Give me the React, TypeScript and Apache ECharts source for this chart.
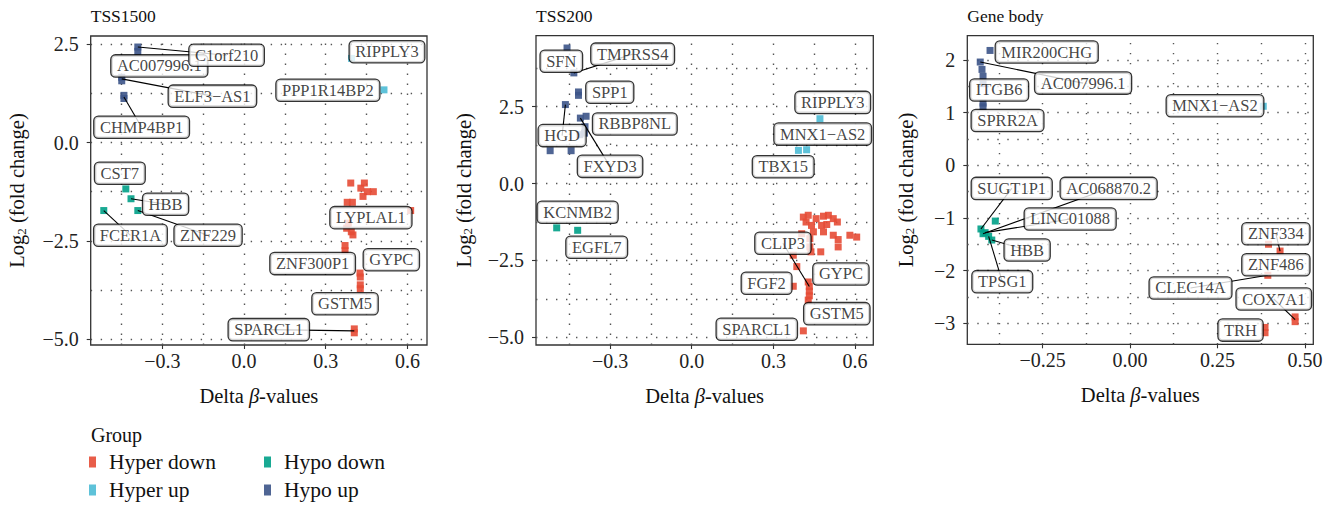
import React, { useEffect, useRef } from 'react';
import * as echarts from 'echarts';

const FONT = '"Liberation Serif", "Times New Roman", serif';

const GROUPS = ['Hyper down', 'Hyper up', 'Hypo down', 'Hypo up'];
const GROUP_COLORS = ['#E64B35', '#4DBBD5', '#00A087', '#3C5488'];

// Each point: [delta beta-value, log2 fold change]
const tss1500HyperDown = [
  [0.392, -1.03], [0.442, -1.03], [0.429, -1.16], [0.453, -1.25], [0.475, -1.25],
  [0.437, -1.37], [0.379, -1.52], [0.398, -1.52], [0.612, -1.73], [0.377, -2.18],
  [0.383, -2.05], [0.394, -2.27], [0.4, -2.35], [0.371, -2.62], [0.371, -2.75],
  [0.426, -3.32], [0.427, -3.42], [0.427, -3.62], [0.427, -3.72], [0.405, -4.74],
  [0.405, -4.84],
];
const tss1500HyperUp = [[0.395, 2.14], [0.514, 1.34]];
const tss1500HypoDown = [[-0.434, -1.18], [-0.415, -1.43], [-0.39, -1.73], [-0.515, -1.73]];
const tss1500HypoUp = [
  [-0.39, 2.43], [-0.39, 2.32], [-0.449, 1.66], [-0.449, 1.57], [-0.441, 1.2], [-0.441, 1.12],
];

const tss200HyperDown = [
  [0.41, -1.09], [0.428, -1.03], [0.42, -1.25], [0.44, -1.36], [0.457, -1.14],
  [0.484, -1.06], [0.502, -1.03], [0.52, -1.14], [0.535, -1.25], [0.477, -1.36],
  [0.496, -1.33], [0.447, -1.57], [0.484, -1.57], [0.52, -1.68], [0.538, -1.82],
  [0.581, -1.68], [0.606, -1.74], [0.538, -2.06], [0.474, -2.22], [0.438, -2.22],
  [0.434, -2.06], [0.404, -1.63], [0.434, -1.79], [0.373, -2.33], [0.386, -2.7],
  [0.373, -3.34], [0.428, -3.2], [0.432, -3.35], [0.432, -3.5], [0.432, -3.65],
  [0.428, -3.79], [0.41, -4.79],
];
const tss200HyperUp = [[0.471, 2.11], [0.392, 1.08], [0.422, 1.1]];
const tss200HypoDown = [[-0.496, -1.44], [-0.419, -1.52]];
const tss200HypoUp = [
  [-0.458, 4.41], [-0.433, 3.6], [-0.416, 2.98], [-0.416, 2.87], [-0.464, 2.57],
  [-0.409, 2.13], [-0.388, 2.19], [-0.392, 1.85], [-0.394, 1.64], [-0.411, 1.59],
  [-0.52, 1.07], [-0.443, 1.07],
];

const geneBodyHyperDown = [
  [0.396, -1.5], [0.429, -1.63], [0.394, -2.09], [0.472, -2.88], [0.472, -2.97],
  [0.386, -3.08], [0.386, -3.18],
];
const geneBodyHyperUp = [[0.381, 1.12]];
const geneBodyHypoDown = [
  [-0.385, -1.06], [-0.426, -1.21], [-0.414, -1.28], [-0.404, -1.35], [-0.395, -1.42], [-0.42, -1.3],
];
const geneBodyHypoUp = [
  [-0.4, 2.18], [-0.428, 1.96], [-0.423, 1.82], [-0.42, 1.69], [-0.42, 1.55], [-0.42, 1.18], [-0.42, 1.11],
];

// Gene labels: [gene, label x, label y, point x, point y] (point omitted when no leader line)
const tss1500Labels: any[] = [
  ['AC007996.1', -0.311, 1.95],
  ['C1orf210', -0.064, 2.22, -0.39, 2.43],
  ['ELF3\u2212AS1', -0.116, 1.18, -0.449, 1.62],
  ['CHMP4BP1', -0.376, 0.39, -0.441, 1.16],
  ['RIPPLY3', 0.525, 2.31],
  ['PPP1R14BP2', 0.308, 1.33],
  ['CST7', -0.456, -0.78],
  ['HBB', -0.288, -1.57, -0.415, -1.43],
  ['FCER1A', -0.417, -2.36, -0.515, -1.73],
  ['ZNF229', -0.132, -2.36, -0.39, -1.73],
  ['LYPLAL1', 0.466, -1.91],
  ['ZNF300P1', 0.252, -3.08],
  ['GYPC', 0.541, -2.98],
  ['GSTM5', 0.371, -4.1],
  ['SPARCL1', 0.091, -4.76, 0.405, -4.79],
];
const tss200Labels: any[] = [
  ['SFN', -0.479, 3.98],
  ['TMPRSS4', -0.217, 4.21, -0.433, 3.6],
  ['SPP1', -0.301, 2.97],
  ['HGD', -0.476, 1.56, -0.464, 2.57],
  ['RBBP8NL', -0.209, 1.94],
  ['FXYD3', -0.3, 0.56, -0.409, 2.13],
  ['RIPPLY3', 0.518, 2.64],
  ['MNX1\u2212AS2', 0.481, 1.61],
  ['TBX15', 0.336, 0.55],
  ['KCNMB2', -0.419, -0.93],
  ['EGFL7', -0.349, -2.07],
  ['CLIP3', 0.335, -1.94, 0.432, -3.35],
  ['GYPC', 0.548, -2.94],
  ['FGF2', 0.275, -3.24],
  ['GSTM5', 0.533, -4.23],
  ['SPARCL1', 0.239, -4.74],
];
const geneBodyLabels: any[] = [
  ['MIR200CHG', -0.238, 2.15],
  ['AC007996.1', -0.134, 1.56, -0.428, 1.96],
  ['ITGB6', -0.374, 1.43],
  ['SPRR2A', -0.35, 0.85],
  ['MNX1\u2212AS2', 0.243, 1.13],
  ['SUGT1P1', -0.338, -0.44, -0.426, -1.21],
  ['AC068870.2', -0.061, -0.44, -0.42, -1.3],
  ['LINC01088', -0.171, -1.02, -0.414, -1.28],
  ['HBB', -0.294, -1.61, -0.395, -1.42],
  ['TPSG1', -0.365, -2.21, -0.404, -1.35],
  ['ZNF334', 0.417, -1.3, 0.429, -1.63],
  ['ZNF486', 0.417, -1.89],
  ['CLEC14A', 0.173, -2.33, 0.394, -2.09],
  ['COX7A1', 0.411, -2.54, 0.472, -2.93],
  ['TRH', 0.316, -3.13],
];

const tss1500XTicks = [-0.3, 0, 0.3, 0.6];
const tss1500YTicks = [-5, -2.5, 0, 2.5];
const tss200XTicks = [-0.3, 0, 0.3, 0.6];
const tss200YTicks = [-5, -2.5, 0, 2.5];
const geneBodyXTicks = [-0.25, 0, 0.25, 0.5];
const geneBodyYTicks = [-3, -2, -1, 0, 1, 2];

const panels = [
  {
    title: 'TSS1500',
    groups: [tss1500HyperDown, tss1500HyperUp, tss1500HypoDown, tss1500HypoUp],
    labels: tss1500Labels,
    xTicks: tss1500XTicks, yTicks: tss1500YTicks,
    xGrid: [-0.45, -0.3, -0.15, 0, 0.15, 0.3, 0.45, 0.6],
    yGrid: [-5, -3.75, -2.5, -1.25, 0, 1.25, 2.5],
    xRange: [-0.563, 0.672], yRange: [-5.15, 2.71],
    xDigits: 1, yDigits: 1,
    grid: { left: 90.7, top: 36, width: 336.3, height: 309 },
    yNameGap: 63,
  },
  {
    title: 'TSS200',
    groups: [tss200HyperDown, tss200HyperUp, tss200HypoDown, tss200HypoUp],
    labels: tss200Labels,
    xTicks: tss200XTicks, yTicks: tss200YTicks,
    xGrid: [-0.45, -0.3, -0.15, 0, 0.15, 0.3, 0.45, 0.6],
    yGrid: [-5, -3.75, -2.5, -1.25, 0, 1.25, 2.5, 3.75],
    xRange: [-0.572, 0.667], yRange: [-5.25, 4.81],
    xDigits: 1, yDigits: 1,
    grid: { left: 536, top: 35.7, width: 337.3, height: 309.3 },
    yNameGap: 62,
  },
  {
    title: 'Gene body',
    groups: [geneBodyHyperDown, geneBodyHyperUp, geneBodyHypoDown, geneBodyHypoUp],
    labels: geneBodyLabels,
    xTicks: geneBodyXTicks, yTicks: geneBodyYTicks,
    xGrid: [-0.375, -0.25, -0.125, 0, 0.125, 0.25, 0.375, 0.5],
    yGrid: [-3, -2.5, -2, -1.5, -1, -0.5, 0, 0.5, 1, 1.5, 2],
    xRange: [-0.465, 0.524], yRange: [-3.4, 2.46],
    xDigits: 2, yDigits: 0,
    grid: { left: 967.3, top: 35.7, width: 346, height: 308.6 },
    yNameGap: 51,
  },
];

function fmt(v: number, d: number) {
  const s = Math.abs(v).toFixed(d);
  return v < -1e-9 ? '\u2212' + s : s;
}

function buildOption() {
  const series: any[] = [];
  panels.forEach((p, i) => {
    // dotted grid lines, major and minor
    const gridSegs: any[] = [];
    p.xGrid.forEach((v) => gridSegs.push({ coords: [[v, p.yRange[0]], [v, p.yRange[1]]] }));
    p.yGrid.forEach((v) => gridSegs.push({ coords: [[p.xRange[0], v], [p.xRange[1], v]] }));
    series.push({
      type: 'lines', coordinateSystem: 'cartesian2d', xAxisIndex: i, yAxisIndex: i,
      data: gridSegs, silent: true, z: 1,
      lineStyle: { color: '#555', width: 1.4, type: [1.4, 8.6], opacity: 1 },
    });
    GROUPS.forEach((g, gi) => {
      series.push({
        name: g, type: 'scatter', xAxisIndex: i, yAxisIndex: i,
        data: p.groups[gi], symbol: 'rect', symbolSize: 7, z: 3,
        itemStyle: { color: GROUP_COLORS[gi], opacity: 0.9 },
        emphasis: { disabled: true },
      });
    });
    const leaders = p.labels
      .filter((l: any[]) => l.length > 3)
      .map((l: any[]) => ({ coords: [[l[3], l[4]], [l[1], l[2]]] }));
    series.push({
      type: 'lines', coordinateSystem: 'cartesian2d', xAxisIndex: i, yAxisIndex: i,
      data: leaders, silent: true, z: 4,
      lineStyle: { color: '#000', width: 1.1, opacity: 1 },
    });
    series.push({
      type: 'scatter', xAxisIndex: i, yAxisIndex: i, silent: true, z: 5,
      symbol: 'rect', symbolSize: 1,
      itemStyle: { color: 'rgba(0,0,0,0)' },
      emphasis: { disabled: true },
      data: p.labels.map((l: any[]) => ({ name: l[0], value: [l[1], l[2]] })),
      label: {
        show: true, position: 'inside', formatter: '{b}',
        fontFamily: FONT, fontSize: 16.5, lineHeight: 16, color: '#111',
        backgroundColor: '#fff', borderColor: '#000', borderWidth: 1.3, borderRadius: 4,
        padding: [3, 5.5, 2, 5.5],
      },
    });
  });

  const axisNameRich = {
    a: { fontFamily: FONT, fontSize: 20.5, color: '#111' },
    b: { fontFamily: FONT, fontSize: 20.5, color: '#111', fontStyle: 'italic' },
    s: { fontFamily: FONT, fontSize: 13, color: '#111', verticalAlign: 'bottom', lineHeight: 14 },
  };

  return {
    animation: false,
    backgroundColor: '#fff',
    title: [
      ...panels.map((p) => ({
        text: p.title, left: p.grid.left, top: 7, padding: 0,
        textStyle: { fontFamily: FONT, fontSize: 17.5, fontWeight: 'normal', color: '#111' },
      })),
      {
        text: 'Group', left: 91, top: 425, padding: 0,
        textStyle: { fontFamily: FONT, fontSize: 20, fontWeight: 'normal', color: '#111' },
      },
    ],
    legend: [
      { data: ['Hyper down', 'Hyper up'], left: 89, top: 451 },
      { data: ['Hypo down', 'Hypo up'], left: 264, top: 451 },
    ].map((l) => ({
      ...l, orient: 'vertical', padding: 0, itemGap: 6, itemWidth: 7, itemHeight: 11,
      icon: 'rect', selectedMode: false,
      textStyle: { fontFamily: FONT, fontSize: 21.5, lineHeight: 21, color: '#111', padding: [0, 0, 0, 8] },
    })),
    grid: panels.map((p) => ({
      ...p.grid, show: true, borderColor: '#333', borderWidth: 1.3, backgroundColor: 'transparent',
    })),
    xAxis: panels.map((p, i) => ({
      type: 'value', gridIndex: i, min: p.xRange[0], max: p.xRange[1],
      name: '{a|Delta }{b|\u03B2}{a|-values}', nameLocation: 'middle', nameGap: 40,
      nameTextStyle: { rich: axisNameRich },
      axisLine: { show: false, onZero: false },
      axisTick: { show: true, length: 4, customValues: p.xTicks, lineStyle: { color: '#333', width: 1.1 } },
      axisLabel: {
        customValues: p.xTicks, formatter: (v: number) => fmt(v, p.xDigits),
        fontFamily: FONT, fontSize: 20, color: '#222', margin: 6,
      },
      splitLine: { show: false },
    })),
    yAxis: panels.map((p, i) => ({
      type: 'value', gridIndex: i, min: p.yRange[0], max: p.yRange[1],
      name: '{a|Log}{s|2}{a| (fold change)}', nameLocation: 'middle', nameGap: p.yNameGap,
      nameTextStyle: { rich: axisNameRich },
      axisLine: { show: false, onZero: false },
      axisTick: { show: true, length: 4, customValues: p.yTicks, lineStyle: { color: '#333', width: 1.1 } },
      axisLabel: {
        customValues: p.yTicks, formatter: (v: number) => fmt(v, p.yDigits),
        fontFamily: FONT, fontSize: 20, color: '#222', margin: 12,
      },
      splitLine: { show: false },
    })),
    series,
  };
}

export default function App() {
  const ref = useRef<HTMLDivElement>(null);
  useEffect(() => {
    if (!ref.current) return;
    const chart = echarts.init(ref.current, undefined, { renderer: 'svg' });
    chart.setOption(buildOption() as any);
    return () => chart.dispose();
  }, []);
  return (
    <div
      ref={ref}
      style={{ position: 'fixed', left: 0, top: 0, width: 1338, height: 505, background: '#fff' }}
    />
  );
}
